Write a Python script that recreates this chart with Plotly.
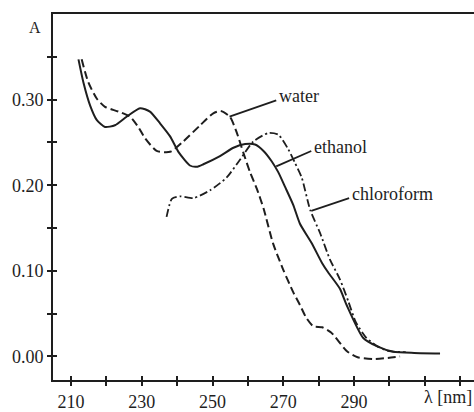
import plotly.graph_objects as go

# ---- data ----
ethanol_x = [212.1, 213.5, 215.4, 217.3, 219.6, 222.4, 225.7, 229.5, 232.3, 235.2, 238.0, 240.5,
             243.6, 245.5, 247.4, 252.1, 255.9, 259.2, 262.0, 264.4, 266.7, 268.6, 270.5, 272.8,
             274.7, 278.0, 280.9, 282.7, 286.0, 287.9, 292.6, 296.4, 301.1, 307.0, 314.3]
ethanol_y = [0.347, 0.320, 0.293, 0.276, 0.268, 0.270, 0.280, 0.290, 0.286, 0.272, 0.257, 0.238,
             0.223, 0.2215, 0.2245, 0.234, 0.2437, 0.248, 0.2475, 0.240, 0.228, 0.215, 0.198, 0.177,
             0.155, 0.1325, 0.1095, 0.098, 0.079, 0.060, 0.0215, 0.012, 0.0054, 0.004, 0.0034]

water_x = [213.0, 214.9, 217.3, 219.6, 223.4, 226.7, 229.0, 230.9, 234.2, 238.0, 241.7, 246.5,
           250.2, 252.3, 254.9, 256.8, 258.7, 260.6, 262.5, 264.4, 267.1, 269.9, 272.8, 274.7,
           276.5, 278.5, 281.0, 283.5, 288.0, 291.0, 295.5, 299.0, 303.0]
water_y = [0.347, 0.320, 0.301, 0.2915, 0.286, 0.280, 0.268, 0.255, 0.240, 0.239, 0.251, 0.270,
           0.284, 0.2866, 0.280, 0.262, 0.238, 0.215, 0.196, 0.173, 0.132, 0.102, 0.075, 0.060,
           0.045, 0.035, 0.034, 0.028, 0.006, -0.001, -0.003, -0.002, 0.000]

chloroform_x = [237.0, 238.5, 240.8, 244.6, 249.3, 254.0, 257.8, 261.5, 265.8, 268.6, 271.4, 273.3,
                275.2, 277.6, 280.4, 283.2, 286.0, 288.4, 290.5, 293.4, 296.5, 299.9, 304.6]
chloroform_y = [0.163, 0.184, 0.187, 0.185, 0.194, 0.209, 0.230, 0.251, 0.261, 0.259, 0.242, 0.226,
                0.209, 0.171, 0.144, 0.113, 0.090, 0.064, 0.040, 0.022, 0.012, 0.006, 0.005]

x_ticks = [210, 220, 230, 240, 250, 260, 270, 280, 290, 300, 310, 320]
x_labels = ["210", "", "230", "", "250", "", "270", "", "290", "", "", ""]
y_ticks = [0.00, 0.05, 0.10, 0.15, 0.20, 0.25, 0.30, 0.35]
y_labels = ["0.00", "", "0.10", "", "0.20", "", "0.30", ""]

# label annotations: (text, leader start x,y on curve, leader end x,y)
labels = [
    ("water", 254.8, 0.280, 268.0, 0.299),
    ("ethanol", 268.0, 0.222, 277.9, 0.240),
    ("chloroform", 277.9, 0.170, 288.6, 0.185),
]

INK = "#1e1e1e"
FONT = "Liberation Serif"
X_RANGE = [204.9, 323.9]
Y_RANGE = [-0.0276, 0.40]

fig = go.Figure()
fig.add_trace(go.Scatter(x=water_x, y=water_y, mode="lines", name="water",
                         line=dict(color=INK, width=2, dash="8px,4px", shape="spline", smoothing=0.6)))
fig.add_trace(go.Scatter(x=chloroform_x, y=chloroform_y, mode="lines", name="chloroform",
                         line=dict(color=INK, width=1.8, dash="8px,3px,2px,3px", shape="spline", smoothing=0.6)))
fig.add_trace(go.Scatter(x=ethanol_x, y=ethanol_y, mode="lines", name="ethanol",
                         line=dict(color=INK, width=2, shape="spline", smoothing=0.6)))
# invisible trace to carry the overlay axes (inside half of crossing ticks)
fig.add_trace(go.Scatter(x=[X_RANGE[0]], y=[Y_RANGE[0]], xaxis="x2", yaxis="y2",
                         mode="markers", marker=dict(opacity=0), showlegend=False, hoverinfo="skip"))

for text, x0, y0, x1, y1 in labels:
    fig.add_shape(type="line", x0=x0, y0=y0, x1=x1, y1=y1, xref="x", yref="y",
                  line=dict(color=INK, width=1.8))
    fig.add_annotation(x=x1, y=y1, text=text, showarrow=False, xanchor="left", yanchor="middle",
                       xshift=1, yshift=4, font=dict(family=FONT, size=18, color=INK))

fig.add_annotation(x=0, y=1, xref="paper", yref="paper", text="A", showarrow=False,
                   xanchor="right", yanchor="top", xshift=-10, yshift=-3,
                   font=dict(family=FONT, size=16, color=INK))
fig.add_annotation(x=1, y=0, xref="paper", yref="paper", text="λ [nm]", showarrow=False,
                   xanchor="right", yanchor="top", yshift=-5,
                   font=dict(family=FONT, size=18, color=INK))

tick_style = dict(showgrid=False, zeroline=False, tickcolor=INK, tickwidth=2, ticklen=4)
fig.update_layout(
    width=474, height=412,
    margin=dict(l=53, r=0, t=14, b=26),
    paper_bgcolor="white", plot_bgcolor="white",
    showlegend=False,
    font=dict(family=FONT, size=18, color=INK),
    xaxis=dict(range=X_RANGE, tickvals=x_ticks, ticktext=x_labels, ticks="outside",
               showline=True, mirror=True, linecolor=INK, linewidth=2, **tick_style),
    yaxis=dict(range=Y_RANGE, tickvals=y_ticks, ticktext=y_labels, ticks="outside",
               showline=True, mirror=False, linecolor=INK, linewidth=2, **tick_style),
    xaxis2=dict(range=X_RANGE, overlaying="x", tickvals=x_ticks, ticks="inside",
                showticklabels=False, showline=False, **tick_style),
    yaxis2=dict(range=Y_RANGE, overlaying="y", tickvals=y_ticks, ticks="inside",
                showticklabels=False, showline=False, **tick_style),
)

fig.write_html("out.html")
